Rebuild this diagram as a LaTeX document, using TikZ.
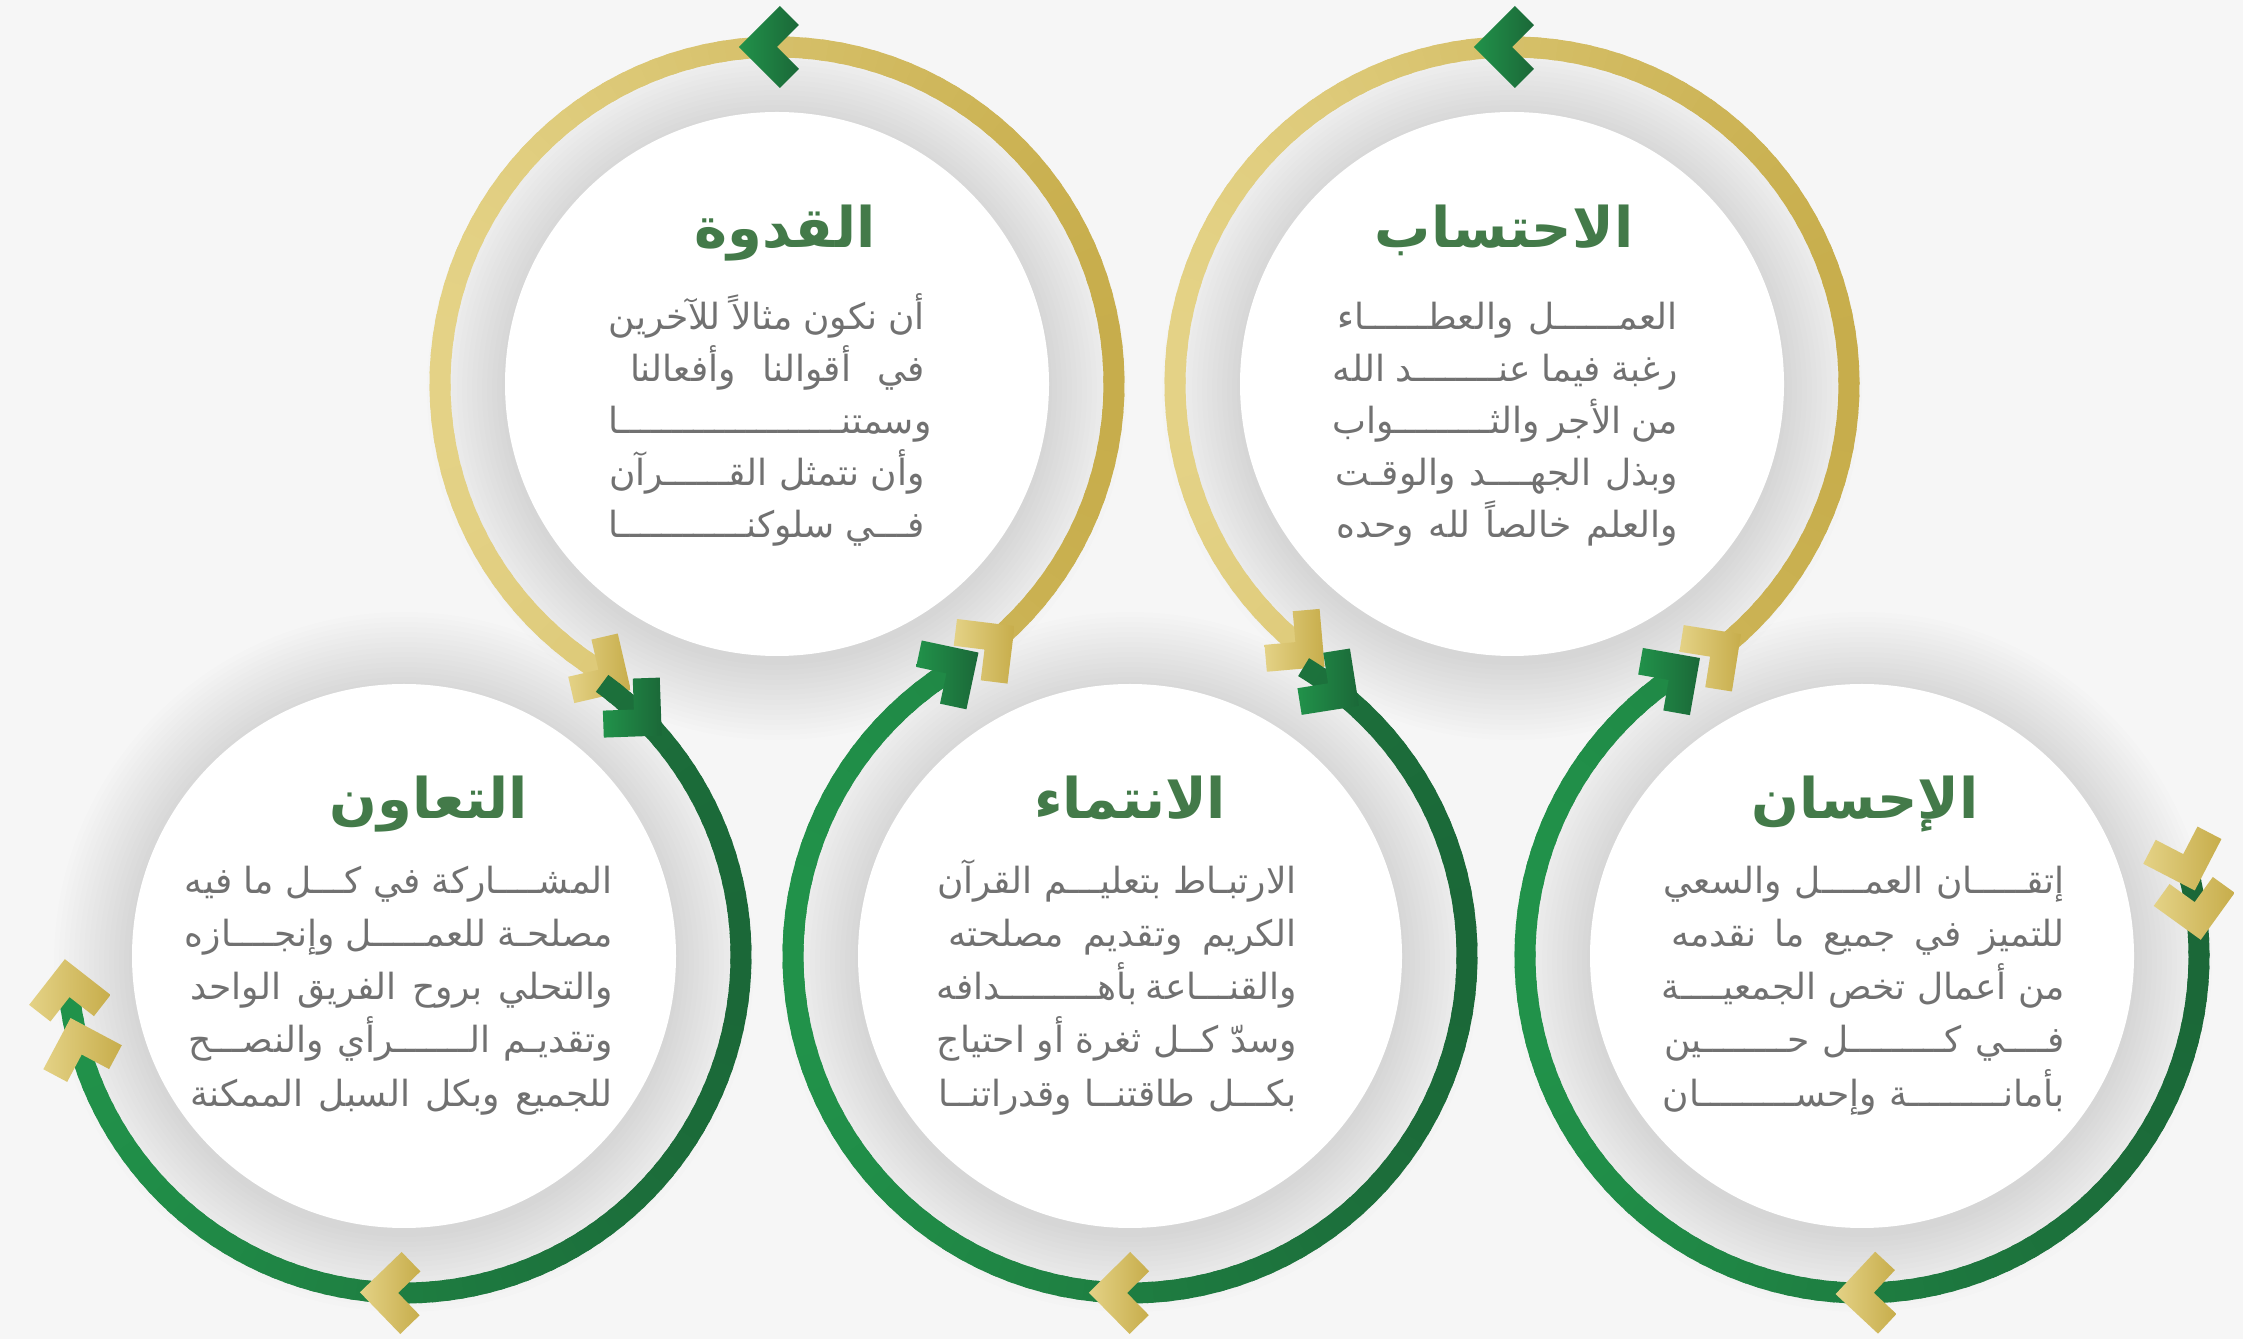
\documentclass[tikz,border=0pt]{standalone}
\usepackage{fontspec}
\usetikzlibrary{calc}
\TeXXeTstate=1
\newfontfamily\arabicfont[Script=Arabic]{DejaVu Sans}
\ExplSyntaxOn
\cs_new:Npn \twl #1 { \prg_replicate:nn {#1} {ـ} }
\ExplSyntaxOff
\newcommand\jl[2]{\hbox to #1pt{\hskip 0pt plus 8pt#2}}
\definecolor{bgc}{HTML}{F6F6F6}
\definecolor{goldL}{HTML}{E4D286}
\definecolor{goldD}{HTML}{C7AD4B}
\definecolor{grnL}{HTML}{21924A}
\definecolor{grnD}{HTML}{1B6838}
\definecolor{ttlgreen}{HTML}{437A49}
\definecolor{bodygray}{HTML}{717171}
\tikzset{
  ringline/.style={line width=21pt},
  ttl/.style={font=\arabicfont\bfseries\fontsize{56}{64}\selectfont, text=ttlgreen, anchor=base, inner sep=0pt},
  bdy/.style={font=\arabicfont\fontsize{36}{44}\selectfont, text=bodygray, anchor=base east, inner sep=0pt},
}
\newcommand\ringarc[5]{%
  \foreach \i in {0,...,99}{%
    \pgfmathsetmacro\angA{(#2)+((#3)-(#2))*(\i/100)}%
    \pgfmathsetmacro\angB{(#2)+((#3)-(#2))*((\i+1.4)/100)}%
    \pgfmathtruncatemacro\rmix{50+50*cos((\angA+\angB)/2)}%
    \draw[ringline, draw=#5!\rmix!#4] ($(#1)+(\angA:337)$) arc[start angle=\angA, end angle=\angB, radius=337];
  }}
\newcommand\chev[5]{%
  \pgfmathsetmacro\chph{(#2)+90*(#3)}%
  \shade[left color=#4, right color=#5] ($(#1)+(#2:337)$) -- ++({\chph+135}:31) -- ++({\chph+45}:27) -- ++({\chph-45}:58) -- ++({\chph-135}:58) -- ++({\chph+135}:27) -- cycle;}
\begin{document}
\begin{tikzpicture}[x=1pt,y=1pt]
\useasboundingbox (0,0) rectangle (2243,1339);
\fill[bgc] (0,0) rectangle (2243,1339);
\coordinate (TL) at (777,955);
\coordinate (TR) at (1512,955);
\coordinate (BL) at (404,383);
\coordinate (BM) at (1130,383);
\coordinate (BR) at (1862,383);
\foreach \cn in {TL,TR,BL,BM,BR}{
  \foreach \k in {1,...,16}{
    \fill[black, opacity=0.008] ($(\cn)+(0,-6)$) circle ({270+5*\k});
  }}
\foreach \cn in {TL,TR,BL,BM,BR}{\fill[white] (\cn) circle (272);}
% gold rings
\ringarc{TL}{-52}{238}{goldL}{goldD}
\chev{TL}{-52}{1}{goldL}{goldD}
\chev{TL}{90}{1}{grnL}{grnD}
\chev{TL}{238}{1}{goldL}{goldD}
\ringarc{TR}{-54}{230}{goldL}{goldD}
\chev{TR}{-54}{1}{goldL}{goldD}
\chev{TR}{90}{1}{grnL}{grnD}
\chev{TR}{230}{1}{goldL}{goldD}
% green rings
\ringarc{BL}{54}{-173}{grnL}{grnD}
\chev{BL}{47}{-1}{grnL}{grnD}
\chev{BL}{-91}{-1}{goldL}{goldD}
\chev{BL}{-163}{-1}{goldL}{goldD}
\chev{BL}{-173}{-1}{goldL}{goldD}
\ringarc{BM}{59}{-237}{grnL}{grnD}
\chev{BM}{54}{-1}{grnL}{grnD}
\chev{BM}{-90.5}{-1}{goldL}{goldD}
\chev{BM}{-237}{-1}{grnL}{grnD}
\ringarc{BR}{16}{-235}{grnL}{grnD}
\chev{BR}{17.6}{-1}{goldL}{goldD}
\chev{BR}{9.2}{-1}{goldL}{goldD}
\chev{BR}{-88}{-1}{goldL}{goldD}
\chev{BR}{-235}{-1}{grnL}{grnD}
% texts top-left
\node[ttl] (tTL) at (785,1091) {\beginR القدوة\endR};
\node[bdy] (tl1) at (925,1009) {\jl{316}{\beginR أن نكون مثالاً للآخرين\endR}};
\node[bdy] (tl2) at (925,957) {\jl{316}{\beginR في أقوالنا وأفعالنا\endR}};
\node[bdy] (tl3) at (925,905) {\jl{316}{\beginR وسمتن\twl{21}ا\endR}};
\node[bdy] (tl4) at (925,853) {\jl{316}{\beginR وأن نتمثل الق\twl{6}رآن\endR}};
\node[bdy] (tl5) at (925,801) {\jl{316}{\beginR ف\twl{3}ي سلوكن\twl{12}ا\endR}};
% texts top-right
\node[ttl] (tTR) at (1504,1091) {\beginR الاحتساب\endR};
\node[bdy] (tr1) at (1678,1009) {\jl{345}{\beginR العم\twl{6}ل والعط\twl{6}اء\endR}};
\node[bdy] (tr2) at (1678,957) {\jl{345}{\beginR رغبة فيما عن\twl{8}د الله\endR}};
\node[bdy] (tr3) at (1678,905) {\jl{345}{\beginR من الأجر والث\twl{9}واب\endR}};
\node[bdy] (tr4) at (1678,853) {\jl{345}{\beginR وبذل الجه\twl{4}د والوق\twl{1}ت\endR}};
\node[bdy] (tr5) at (1678,801) {\jl{345}{\beginR والعلم خالصاً لله وحده\endR}};
% texts bottom-left
\node[ttl] (tBL) at (429,520) {\beginR التعاون\endR};
\node[bdy] (bl1) at (613,445) {\jl{428}{\beginR المش\twl{4}اركة في ك\twl{3}ل ما فيه\endR}};
\node[bdy] (bl2) at (613,392) {\jl{428}{\beginR مصلح\twl{1}ة للعم\twl{5}ل وإنج\twl{4}ازه\endR}};
\node[bdy] (bl3) at (613,339) {\jl{428}{\beginR والتحلي بروح الفريق الواحد\endR}};
\node[bdy] (bl4) at (613,286) {\jl{428}{\beginR وتقدي\twl{1}م ال\twl{7}رأي والنص\twl{3}ح\endR}};
\node[bdy] (bl5) at (613,233) {\jl{428}{\beginR للجميع وبكل السبل الممكنة\endR}};
% texts bottom-middle
\node[ttl] (tBM) at (1130,520) {\beginR الانتماء\endR};
\node[bdy] (bm1) at (1297,445) {\jl{360}{\beginR الارتب\twl{1}اط بتعلي\twl{3}م القرآن\endR}};
\node[bdy] (bm2) at (1297,392) {\jl{360}{\beginR الكريم وتقديم مصلحته\endR}};
\node[bdy] (bm3) at (1297,339) {\jl{360}{\beginR والقن\twl{3}اعة بأه\twl{9}دافه\endR}};
\node[bdy] (bm4) at (1297,286) {\jl{360}{\beginR وسدّ ك\twl{2}ل ثغرة أو احتياج\endR}};
\node[bdy] (bm5) at (1297,233) {\jl{360}{\beginR بك\twl{3}ل طاقتن\twl{2}ا وقدراتن\twl{2}ا\endR}};
% texts bottom-right
\node[ttl] (tBR) at (1865,520) {\beginR الإحسان\endR};
\node[bdy] (br1) at (2065,445) {\jl{403}{\beginR إتق\twl{5}ان العم\twl{4}ل والسعي\endR}};
\node[bdy] (br2) at (2065,392) {\jl{403}{\beginR للتميز في جميع ما نقدمه\endR}};
\node[bdy] (br3) at (2065,339) {\jl{403}{\beginR من أعمال تخص الجمعي\twl{4}ة\endR}};
\node[bdy] (br4) at (2065,286) {\jl{403}{\beginR ف\twl{4}ي ك\twl{9}ل ح\twl{8}ين\endR}};
\node[bdy] (br5) at (2065,233) {\jl{403}{\beginR بأمان\twl{9}ة وإحس\twl{9}ان\endR}};
\end{tikzpicture}
\end{document}
